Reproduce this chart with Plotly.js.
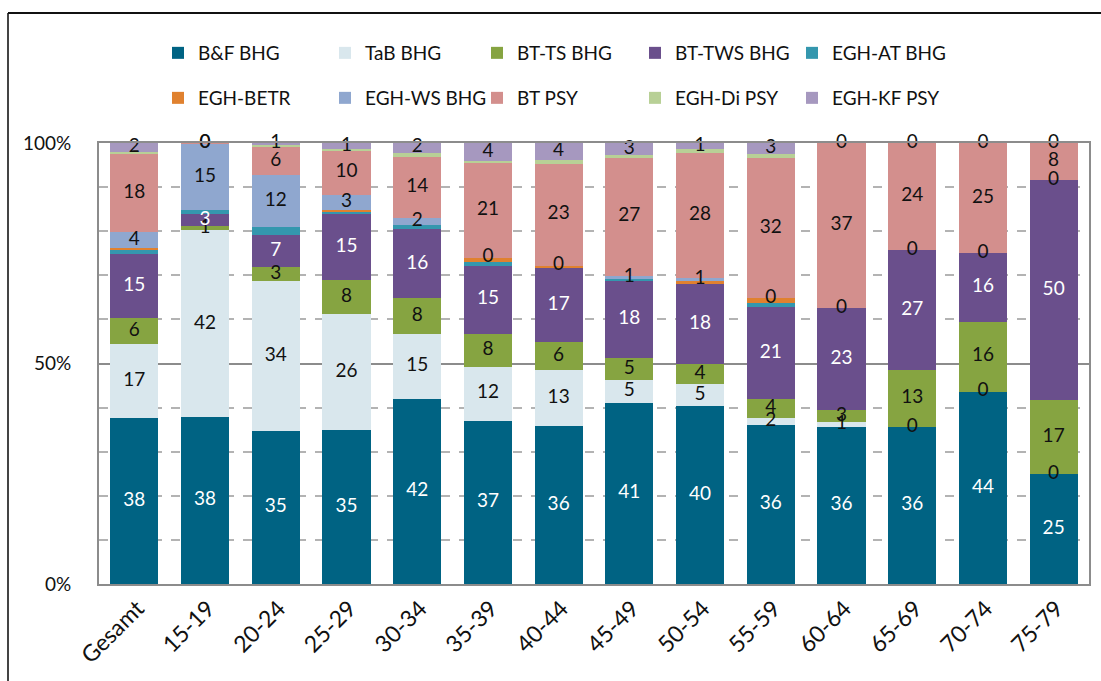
<!DOCTYPE html>
<html>
<head>
<meta charset="utf-8">
<script src="https://cdn.plot.ly/plotly-3.0.1.min.js"></script>
<style>
  body { margin: 0; background: #fff; }
  #chart { width: 1101px; height: 681px; }
</style>
</head>
<body>
<div id="chart"></div>
<script>
// Age groups
const groups = ['Gesamt', '15-19', '20-24', '25-29', '30-34', '35-39', '40-44',
    '45-49', '50-54', '55-59', '60-64', '65-69', '70-74', '75-79'];

// Shares in percent (stack order bottom -> top)
const bfBhg   = [37.6, 37.8, 34.6, 34.9, 42.0, 37.0, 35.8, 41.0, 40.4, 36.1, 35.6, 35.6, 43.6, 24.9];
const tabBhg  = [16.8, 42.4, 34.0, 26.3, 14.6, 12.3, 12.7, 5.3, 5.0, 1.5, 1.2, 0, 0, 0];
const btTs    = [5.9, 0.9, 3.2, 7.7, 8.2, 7.5, 6.4, 4.9, 4.4, 4.4, 2.6, 12.9, 15.9, 16.8];
const btTws   = [14.5, 2.7, 7.3, 15.0, 15.6, 15.4, 16.8, 17.5, 18.3, 20.7, 23.2, 27.2, 15.6, 49.9];
const eghAt   = [0.9, 0.9, 1.8, 0.5, 0.9, 0.9, 0, 0.5, 0, 1.1, 0, 0, 0, 0];
const eghBetr = [0.5, 0, 0, 0.5, 0, 0.9, 0.5, 0, 0.5, 1.1, 0, 0, 0, 0];
const eghWs   = [3.6, 15.0, 11.8, 3.4, 1.8, 0, 0, 0.7, 0.9, 0, 0, 0, 0, 0];
const btPsy   = [17.7, 0.3, 6.3, 10.0, 13.8, 21.4, 23.1, 26.8, 28.2, 31.6, 37.4, 24.3, 24.9, 8.4];
const eghDi   = [0.5, 0, 0.5, 0.3, 0.9, 0.5, 0.9, 0.5, 0.9, 0.9, 0, 0, 0, 0];
const eghKf   = [2.0, 0, 0.7, 1.4, 2.3, 4.1, 3.9, 2.9, 1.4, 2.6, 0, 0, 0, 0];

const series = [
    { name: 'B&F BHG', values: bfBhg, color: '#006383', label: true, labelColor: '#ffffff' },
    { name: 'TaB BHG', values: tabBhg, color: '#d9e7ed', label: true, labelColor: '#111111' },
    { name: 'BT-TS BHG', values: btTs, color: '#86a441', label: true, labelColor: '#111111' },
    { name: 'BT-TWS BHG', values: btTws, color: '#6a4f8c', label: true, labelColor: '#ffffff' },
    { name: 'EGH-AT BHG', values: eghAt, color: '#3497ae', label: false },
    { name: 'EGH-BETR', values: eghBetr, color: '#e0812f', label: false },
    { name: 'EGH-WS BHG', values: eghWs, color: '#8fa7cf', label: true, labelColor: '#111111' },
    { name: 'BT PSY', values: btPsy, color: '#d38f8d', label: true, labelColor: '#111111' },
    { name: 'EGH-Di PSY', values: eghDi, color: '#b8d096', label: false },
    { name: 'EGH-KF PSY', values: eghKf, color: '#a698bf', label: true, labelColor: '#111111' }
];

// legend marker centres in pixels (Excel puts them in uneven columns)
const legendCols = [178, 345, 497, 655, 812];
const legendRows = [53, 98];

const font = 'Lato, "Open Sans", sans-serif';
const traces = [];
const labelTraces = [];
const base = groups.map(() => 0);
const layoutLegends = {};

series.forEach((s, i) => {
    const key = i === 0 ? 'legend' : 'legend' + (i + 1);
    traces.push({
        type: 'bar',
        name: s.name,
        x: groups,
        y: s.values.map(v => v / 100),
        marker: { color: s.color, line: { width: 0 } },
        legend: key,
        hoverinfo: 'name+y'
    });
    layoutLegends[key] = {
        x: (legendCols[i % 5] - 20 - 99) / 990,
        y: (584 - legendRows[Math.floor(i / 5)]) / 441,
        xanchor: 'left',
        yanchor: 'middle',
        font: { family: font, size: 19, color: '#111' },
        itemwidth: 30,
        bgcolor: 'rgba(0,0,0,0)'
    };
    if (s.label) {
        labelTraces.push({
            type: 'scatter',
            mode: 'text',
            x: groups,
            y: s.values.map((v, j) => (base[j] + v / 2) / 100),
            text: s.values.map(v => String(Math.round(v))),
            textfont: { family: font, size: 19, color: s.labelColor },
            showlegend: false,
            hoverinfo: 'skip',
            cliponaxis: false
        });
    }
    s.values.forEach((v, j) => { base[j] += v; });
});

const layout = Object.assign({
    width: 1101,
    height: 681,
    barmode: 'stack',
    bargap: 0.32,
    font: { family: font, size: 18, color: '#111' },
    plot_bgcolor: 'white',
    paper_bgcolor: 'white',
    margin: { l: 99, r: 12, t: 143, b: 97 },
    xaxis: {
        type: 'category',
        range: [-0.5, groups.length - 0.5],
        tickangle: -45,
        showgrid: false,
        showline: true,
        linecolor: '#8c8c8c',
        linewidth: 2,
        mirror: true,
        ticks: '',
        ticklabelshift: 3,
        tickfont: { family: font, size: 23, color: '#111' }
    },
    yaxis: {
        range: [0, 1],
        tickvals: [0, 0.5, 1],
        ticktext: ['0%', '50%', '100%'],
        showgrid: true,
        gridcolor: '#8c8c8c',
        gridwidth: 2,
        showline: true,
        linecolor: '#8c8c8c',
        linewidth: 2,
        mirror: true,
        zeroline: false,
        ticks: '',
        ticklabelstandoff: 22,
        tickfont: { family: font, size: 19, color: '#111' },
        minor: {
            dtick: 0.1,
            showgrid: true,
            gridcolor: '#b3b3b3',
            gridwidth: 2,
            griddash: 'dash'
        }
    },
    shapes: [
        { type: 'line', xref: 'paper', yref: 'paper', x0: (8 - 99) / 990, x1: (8 - 99) / 990,
          y0: (584 - 13) / 441, y1: (584 - 690) / 441, line: { color: '#444', width: 2 } },
        { type: 'line', xref: 'paper', yref: 'paper', x0: (8 - 99) / 990, x1: (1110 - 99) / 990,
          y0: (584 - 13) / 441, y1: (584 - 13) / 441, line: { color: '#111', width: 2 } }
    ]
}, layoutLegends);

Plotly.newPlot('chart', traces.concat(labelTraces), layout, { displayModeBar: false, staticPlot: true });
</script>
</body>
</html>
